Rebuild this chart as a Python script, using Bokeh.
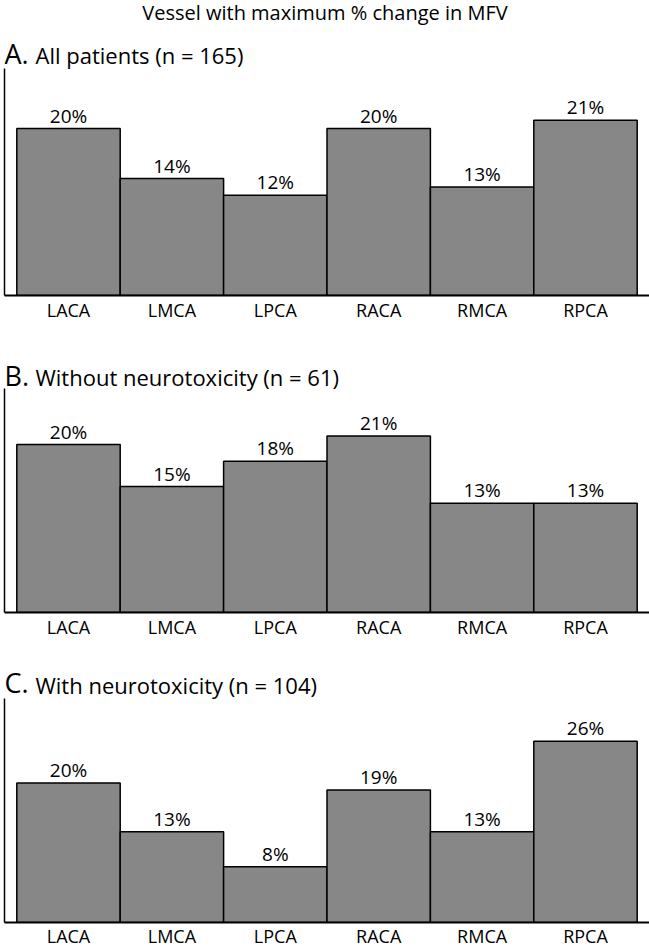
from bokeh.plotting import figure
from bokeh.models import FactorRange, Range1d, Label, ColumnDataSource, FixedTicker
from bokeh.layouts import column
from bokeh.core.properties import value
from bokeh.embed import file_html
from bokeh.resources import INLINE

vessels = ["LACA", "LMCA", "LPCA", "RACA", "RMCA", "RPCA"]
all_patients = [20, 14, 12, 20, 13, 21]
without_neuro = [20, 15, 18, 21, 13, 13]
with_neuro = [20, 13, 8, 19, 13, 26]

main_title = "Vessel with maximum % change in MFV"
panel_letters = ["A.", "B.", "C."]
panel_titles = ["All patients (n = 165)", "Without neurotoxicity (n = 61)", "With neurotoxicity (n = 104)"]

FONT = "Open Sans"
W = 649

# per panel: figure height, bottom border, px per %, axis-top px above baseline,
# letter centre px above baseline, subtitle centre px above baseline
specs = [
    dict(H=340, bb=45, ppu=8.35, axis_px=227, let_px=242.5, sub_px=240.5, standoff=2),
    dict(H=310, bb=38, ppu=8.40, axis_px=224, let_px=237.5, sub_px=236.0, standoff=2),
    dict(H=300, bb=27, ppu=7.00, axis_px=225, let_px=240.0, sub_px=238.0, standoff=1),
]
series = [all_patients, without_neuro, with_neuro]

figs = []
for i, (vals, s) in enumerate(zip(series, specs)):
    frame_h = s["H"] - s["bb"]
    yend = frame_h / s["ppu"]
    p = figure(width=W, height=s["H"], output_backend="svg", toolbar_location=None, title=None,
               x_range=FactorRange(factors=vessels, range_padding=0.119, range_padding_units="absolute"),
               y_range=Range1d(0, yend),
               min_border_left=4, min_border_right=0, min_border_top=0, min_border_bottom=s["bb"])
    p.outline_line_color = None
    p.xgrid.visible = False
    p.ygrid.visible = False
    p.background_fill_color = "white"
    p.border_fill_color = "white"
    src = ColumnDataSource(dict(x=vessels, top=vals, lab=[f"{v}%" for v in vals]))
    p.vbar(x="x", top="top", width=1.0, source=src, fill_color="#878787",
           line_color="black", line_width=1.5)
    p.text(x="x", y="top", text="lab", source=src, text_align="center",
           text_baseline="middle", y_offset=-13, text_font=value(FONT),
           text_font_size="19px", text_color="black")

    xa = p.xaxis[0]
    xa.axis_line_width = 2
    xa.axis_line_color = "black"
    xa.major_tick_line_color = None
    xa.minor_tick_line_color = None
    xa.major_tick_out = 0
    xa.major_tick_in = 0
    xa.major_label_text_font = FONT
    xa.major_label_text_font_size = "18px"
    xa.major_label_text_color = "black"
    xa.major_label_standoff = s["standoff"]

    ya = p.yaxis[0]
    ya.ticker = FixedTicker(ticks=[])
    ya.bounds = (0, s["axis_px"] / s["ppu"])
    ya.axis_line_width = 1.5
    ya.axis_line_color = "black"
    ya.major_tick_line_color = None
    ya.minor_tick_line_color = None
    ya.major_tick_out = 0
    ya.major_tick_in = 0
    ya.major_label_standoff = 0

    if i == 0:
        p.add_layout(Label(x=320.5, y=283.5, x_units="screen", y_units="screen",
                           text=main_title, text_font=FONT, text_font_size="20px",
                           text_align="center", text_baseline="middle", text_color="black"))
    p.add_layout(Label(x=0, y=s["let_px"], x_units="screen", y_units="screen",
                       text=panel_letters[i], text_font=FONT, text_font_size="27px",
                       text_align="left", text_baseline="middle", text_color="black"))
    p.add_layout(Label(x=31, y=s["sub_px"], x_units="screen", y_units="screen",
                       text=panel_titles[i], text_font=FONT, text_font_size="22px",
                       text_align="left", text_baseline="middle", text_color="black"))
    figs.append(p)

layout = column(*figs, spacing=0)
open("out.html", "w").write(file_html(layout, INLINE))
